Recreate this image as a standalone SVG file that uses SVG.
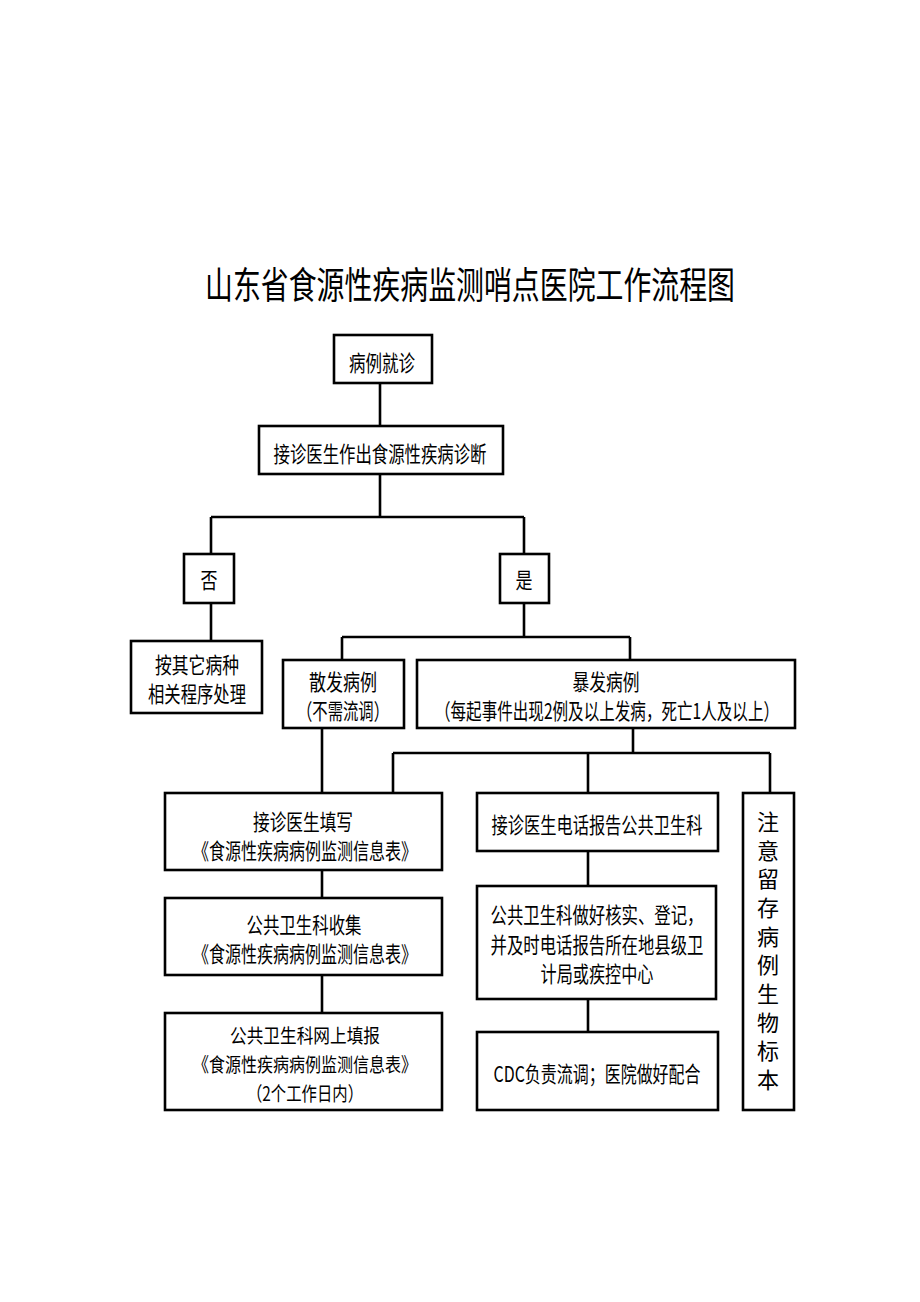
<svg xmlns="http://www.w3.org/2000/svg" width="920" height="1302" viewBox="0 0 920 1302">
<style>
.box{fill:#fff;stroke:#000;stroke-width:2.6}
.ln{fill:none;stroke:#000;stroke-width:2.6}
.t{font-family:"Noto Sans CJK SC","Noto Sans",sans-serif;font-size:22px;fill:#000;text-anchor:middle;dominant-baseline:central}
.s{font-size:19.8px}
.title{font-family:"Noto Sans CJK SC","Noto Sans",sans-serif;font-size:37px;fill:#000;text-anchor:middle;dominant-baseline:central}
.v{font-family:"Noto Sans CJK SC","Noto Sans",sans-serif;font-size:22px;fill:#000;text-anchor:middle;writing-mode:vertical-rl;letter-spacing:6.7px}
</style>
<rect width="920" height="1302" fill="#fff"/>
<text class="title" x="470" y="283" textLength="530" lengthAdjust="spacingAndGlyphs">山东省食源性疾病监测哨点医院工作流程图</text>
<g id="connectors">
<path class="ln" d="M380 383V426"/>
<path class="ln" d="M380 474V517"/>
<path class="ln" d="M211 517H524" stroke-width="3.2"/>
<path class="ln" d="M211 517V554M524 517V554"/>
<path class="ln" d="M211 603V641"/>
<path class="ln" d="M524 603V637"/>
<path class="ln" d="M342 637H630M342 637V660M630 637V660"/>
<path class="ln" d="M322 728V793"/>
<path class="ln" d="M633 728V753"/>
<path class="ln" d="M393 753H770" stroke-width="3"/>
<path class="ln" d="M393 753V793M588 753V793M770 753V793"/>
<path class="ln" d="M322 870V898M322 975V1013"/>
<path class="ln" d="M588 851V886M588 999V1032"/>
</g>
<g id="n1"><rect class="box" x="334" y="335" width="98" height="48"/><text class="t" x="382" y="361" textLength="66" lengthAdjust="spacingAndGlyphs">病例就诊</text></g>
<g id="n2"><rect class="box" x="259" y="426" width="244" height="48"/><text class="t" x="380" y="452" textLength="213" lengthAdjust="spacingAndGlyphs">接诊医生作出食源性疾病诊断</text></g>
<g id="no"><rect class="box" x="184" y="554" width="50" height="49"/><text class="t" x="209" y="578" textLength="17" lengthAdjust="spacingAndGlyphs">否</text></g>
<g id="yes"><rect class="box" x="500" y="554" width="49" height="49"/><text class="t" x="524" y="578" textLength="17" lengthAdjust="spacingAndGlyphs">是</text></g>
<g id="other"><rect class="box" x="131" y="641" width="131" height="72"/><text class="t" x="197" y="663" textLength="84" lengthAdjust="spacingAndGlyphs">按其它病种</text><text class="t" x="197" y="692" textLength="98" lengthAdjust="spacingAndGlyphs">相关程序处理</text></g>
<g id="sporadic"><rect class="box" x="283" y="660" width="121" height="68"/><text class="t" x="343" y="680" textLength="68" lengthAdjust="spacingAndGlyphs">散发病例</text><text class="t" x="343" y="709" textLength="92" lengthAdjust="spacingAndGlyphs">（不需流调）</text></g>
<g id="outbreak"><rect class="box" x="417" y="660" width="378" height="68"/><text class="t" x="606" y="680" textLength="67" lengthAdjust="spacingAndGlyphs">暴发病例</text><text class="t" x="607" y="709" textLength="344" lengthAdjust="spacingAndGlyphs">（每起事件出现2例及以上发病，死亡1人及以上）</text></g>
<g id="fill"><rect class="box" x="165" y="793" width="277" height="77"/><text class="t" x="303" y="820" textLength="100" lengthAdjust="spacingAndGlyphs">接诊医生填写</text><text class="t" x="305" y="849" textLength="224" lengthAdjust="spacingAndGlyphs">《食源性疾病病例监测信息表》</text></g>
<g id="collect"><rect class="box" x="165" y="898" width="277" height="77"/><text class="t" x="304" y="923" textLength="115" lengthAdjust="spacingAndGlyphs">公共卫生科收集</text><text class="t" x="305" y="952" textLength="224" lengthAdjust="spacingAndGlyphs">《食源性疾病病例监测信息表》</text></g>
<g id="report"><rect class="box" x="165" y="1013" width="277" height="97"/><text class="t s" x="305" y="1034" textLength="150" lengthAdjust="spacingAndGlyphs">公共卫生科网上填报</text><text class="t s" x="305" y="1063" textLength="224" lengthAdjust="spacingAndGlyphs">《食源性疾病病例监测信息表》</text><text class="t s" x="305" y="1092" textLength="116" lengthAdjust="spacingAndGlyphs">（2个工作日内）</text></g>
<g id="phone"><rect class="box" x="477" y="793" width="241" height="58"/><text class="t" x="597" y="823" textLength="211" lengthAdjust="spacingAndGlyphs">接诊医生电话报告公共卫生科</text></g>
<g id="verify"><rect class="box" x="477" y="886" width="239" height="113"/><text class="t" x="597" y="913" textLength="213" lengthAdjust="spacingAndGlyphs">公共卫生科做好核实、登记，</text><text class="t" x="597" y="943" textLength="213" lengthAdjust="spacingAndGlyphs">并及时电话报告所在地县级卫</text><text class="t" x="597" y="972" textLength="113" lengthAdjust="spacingAndGlyphs">计局或疾控中心</text></g>
<g id="cdc"><rect class="box" x="477" y="1032" width="241" height="78"/><text class="t" x="597" y="1072" textLength="207" lengthAdjust="spacingAndGlyphs">CDC负责流调；医院做好配合</text></g>
<g id="sample"><rect class="box" x="743" y="793" width="51" height="317"/>
<text class="v" x="768" y="954">注意留存病例生物标本</text>
</g>
</svg>
